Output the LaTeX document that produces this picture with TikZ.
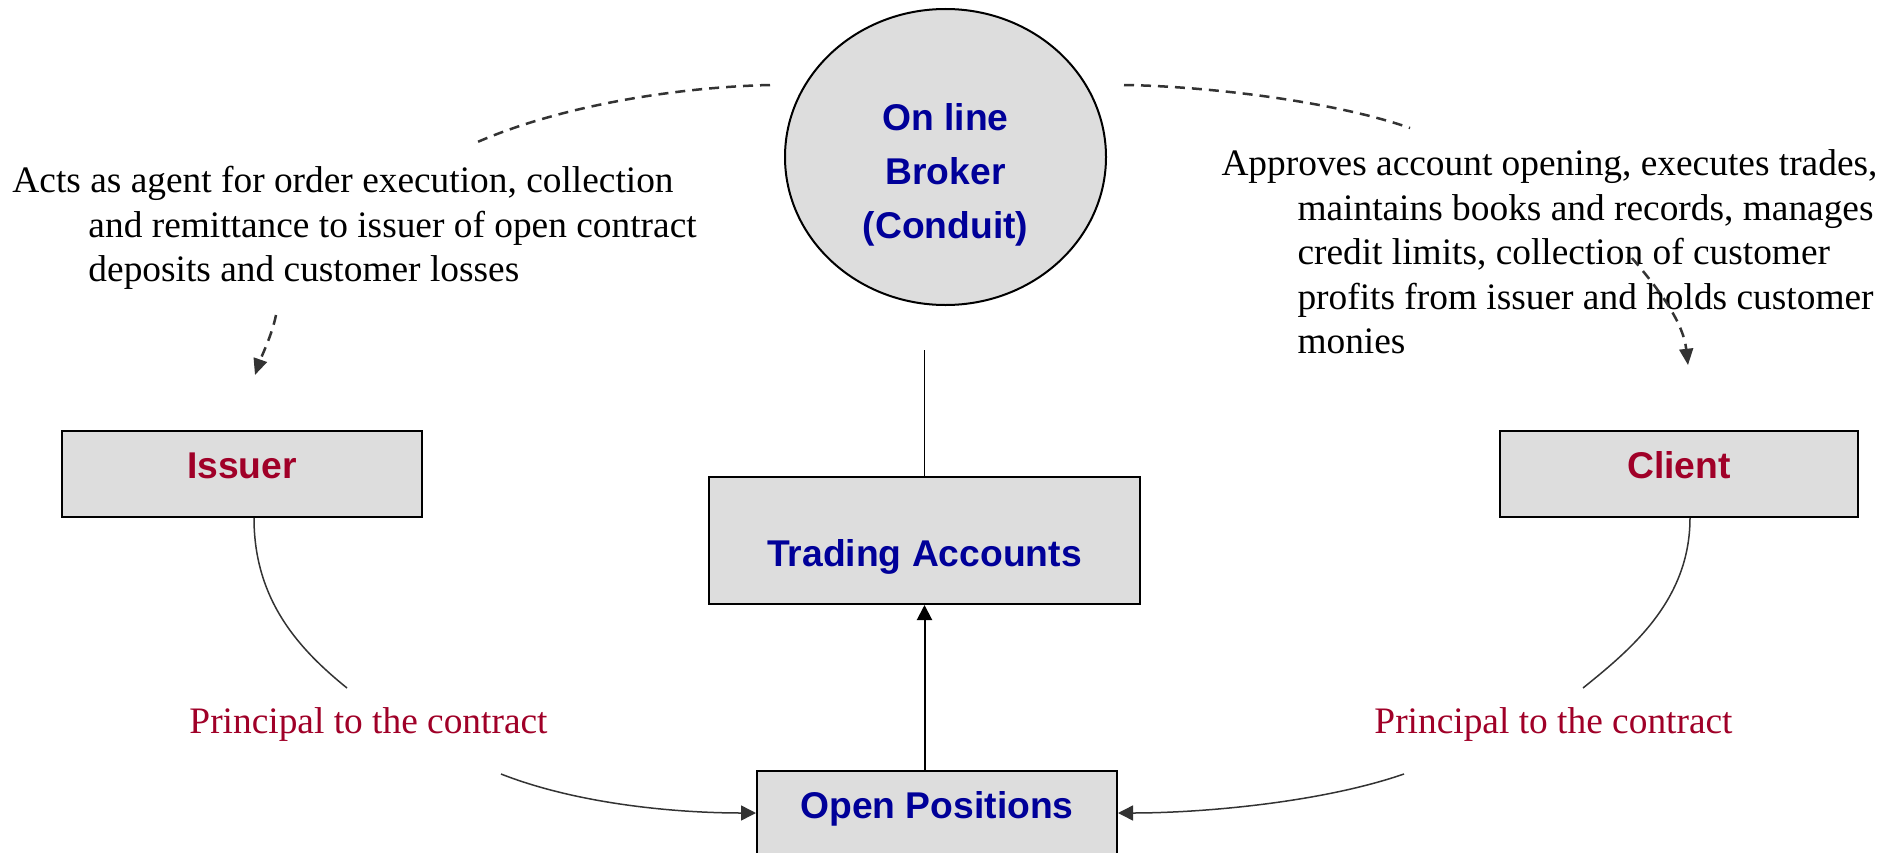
\documentclass[tikz,border=0pt]{standalone}
\usepackage{fontspec}
\setmainfont{Liberation Serif}
\newfontfamily\labelfont{Liberation Sans}
\usetikzlibrary{arrows.meta,calc,shapes.geometric}
\definecolor{nodeblue}{RGB}{0,0,153}
\definecolor{nodered}{RGB}{160,0,40}
\definecolor{boxgray}{RGB}{221,221,221}
\definecolor{linegray}{RGB}{51,51,51}
\tikzset{
  box/.style={draw=black, line width=0.8pt, fill=boxgray, rectangle, inner sep=0pt,
    font=\labelfont\bfseries\fontsize{14.9pt}{17pt}\selectfont},
  bluebox/.style={box, text=nodeblue},
  redbox/.style={box, text=nodered},
  desc/.style={font=\fontsize{14.95pt}{17.8pt}\selectfont, align=left, inner sep=0pt, anchor=north west},
  principal/.style={font=\fontsize{14.95pt}{17.8pt}\selectfont, text=nodered, inner sep=0pt, anchor=base},
  conn/.style={draw=linegray, line width=0.6pt},
  connarrow/.style={conn, -{Triangle[length=6pt,width=6pt]}},
  dashconn/.style={draw=linegray, line width=1pt, dash pattern=on 4pt off 2.8pt},
  dasharrow/.style={dashconn, -{Triangle[length=6.5pt,width=5.5pt]}},
}
\begin{document}
\begin{tikzpicture}[x=0.4pt,y=-0.4pt]
\useasboundingbox (0,0) rectangle (1895,853);
\clip (0,0) rectangle (1895,853);
\fill[white] (0,0) rectangle (1895,853);

% main nodes
\node[ellipse, draw=black, line width=0.8pt, fill=boxgray, inner sep=0pt,
      minimum width=128.4pt, minimum height=118.4pt, align=center, text=nodeblue,
      font=\labelfont\bfseries\fontsize{14.9pt}{21.6pt}\selectfont]
  (broker) at (945.5,157)
  {\rule{0pt}{26pt}On line\\Broker\\(Conduit)\rule[-4pt]{0pt}{4pt}};

\node[redbox, minimum width=144pt, minimum height=34.4pt, text height=3.2pt, text depth=0pt]
  (issuer) at (242,474) {Issuer};
\node[redbox, minimum width=143.2pt, minimum height=34.4pt, text height=3.2pt, text depth=0pt]
  (client) at (1679,474) {Client};
\node[bluebox, minimum width=172.4pt, minimum height=50.8pt, text height=20.4pt, text depth=0pt]
  (trading) at (924.5,540.5) {Trading Accounts};
\node[bluebox, minimum width=144pt, minimum height=33.6pt, text height=4pt, text depth=0pt]
  (open) at (937,813) {Open Positions};

% descriptions
\node[desc] (agenttext) at (12,162)
  {\rule{0pt}{12pt}Acts as agent for order execution, collection\\
   \hspace*{30.4pt}and remittance to issuer of open contract\\
   \hspace*{30.4pt}deposits and customer losses};
\node[desc] (brokertext) at (1221,145)
  {\rule{0pt}{12pt}Approves account opening, executes trades,\\
   \hspace*{30.4pt}maintains books and records, manages\\
   \hspace*{30.4pt}credit limits, collection of customer\\
   \hspace*{30.4pt}profits from issuer and holds customer\\
   \hspace*{30.4pt}monies};

\node[principal] (issuerlabel) at (368.5,733) {Principal to the contract};
\node[principal] (clientlabel) at (1553.5,733) {Principal to the contract};

% free ends
\coordinate (brokerfoot) at (924.5,350);
\coordinate (leftarcstart) at (770,85);
\coordinate (leftarcend) at (473,144);
\coordinate (rightarcstart) at (1124,85);
\coordinate (rightarcend) at (1410,128);
\coordinate (agentfrom) at (276,315);
\coordinate (agentto) at (255,375);
\coordinate (brokerfrom) at (1632,258);
\coordinate (brokerto) at (1688,365);
\coordinate (issuerlow) at (347,688);
\coordinate (issuerarr) at (501,774);
\coordinate (clientlow) at (1583,688);
\coordinate (clientarr) at (1404,774);

% connectors
\draw[black, line width=0.6pt] (brokerfoot) -- (trading.north);
\draw[black, line width=0.8pt, -{Triangle[length=6pt,width=6pt]}] (open.north -| trading.south) -- (trading.south);

\draw[dashconn] (leftarcstart) .. controls (680,87) and (560,105) .. (leftarcend);
\draw[dashconn] (rightarcstart) .. controls (1200,86) and (1330,100) .. (rightarcend);
\draw[dasharrow] (agentfrom) .. controls (272,335) and (262,355) .. (agentto);
\draw[dasharrow] (brokerfrom) .. controls (1655,285) and (1683,320) .. (brokerto);

\draw[conn] ($(issuer.south)+(12,0)$) .. controls +(0,83) and (300,650) .. (issuerlow);
\draw[connarrow] (issuerarr) .. controls (580,805) and (680,813) .. (open.west);
\draw[conn] ($(client.south)+(11,0)$) .. controls +(0,83) and (1630,650) .. (clientlow);
\draw[connarrow] (clientarr) .. controls (1320,803) and (1200,813) .. (open.east);
\end{tikzpicture}
\end{document}
